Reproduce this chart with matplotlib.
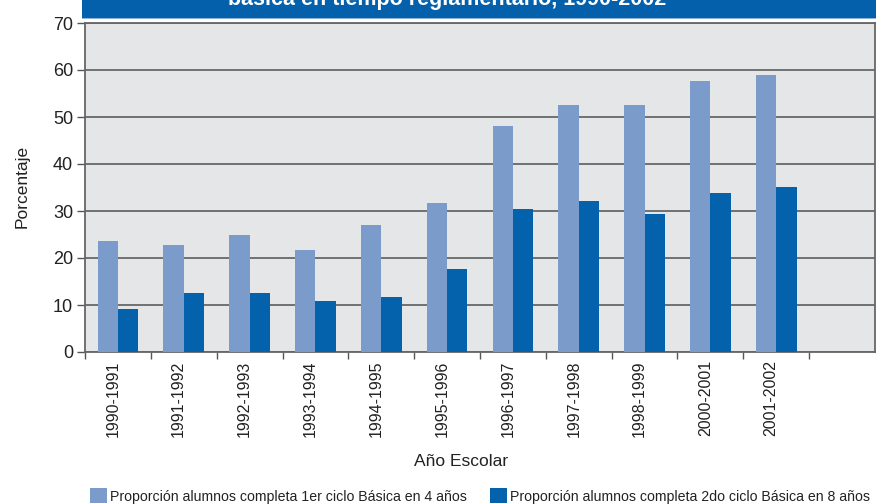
import matplotlib
matplotlib.use("Agg")
import matplotlib.pyplot as plt
import matplotlib.transforms as mtransforms
from matplotlib.patches import Rectangle

plt.rcParams['font.family'] = ['Liberation Sans', 'DejaVu Sans']

categories = ["1990-1991", "1991-1992", "1992-1993", "1993-1994", "1994-1995",
              "1995-1996", "1996-1997", "1997-1998", "1998-1999", "2000-2001",
              "2001-2002"]
ciclo1_4anos = [23.7, 22.7, 25.0, 21.6, 27.1, 31.8, 48.1, 52.6, 52.6, 57.7, 59.0]
ciclo2_8anos = [9.1, 12.5, 12.5, 10.8, 11.8, 17.6, 30.5, 32.2, 29.4, 33.9, 35.2]
yticks = [0, 10, 20, 30, 40, 50, 60, 70]

title = "básica en tiempo reglamentario, 1990-2002"
ylabel = "Porcentaje"
xlabel = "Año Escolar"
legend1 = "Proporción alumnos completa 1er ciclo Básica en 4 años"
legend2 = "Proporción alumnos completa 2do ciclo Básica en 8 años"

c_light = "#7b9bcb"
c_dark = "#0461ab"
c_bg = "#e5e6e8"
c_grid = "#505050"

W, H = 876, 504
fig = plt.figure(figsize=(W / 100, H / 100), dpi=100)
fig.patch.set_facecolor("white")

def fx(px):
    return px / W

def fy(py):
    return 1 - py / H

ax = fig.add_axes([fx(85), fy(352), fx(875) - fx(85), fy(23) - fy(352)])
ax.set_facecolor(c_bg)

n = len(categories)
x = list(range(n))
bw = 0.31
ax.bar([i - bw / 2 for i in x], ciclo1_4anos, width=bw, color=c_light, zorder=3)
ax.bar([i + bw / 2 for i in x], ciclo2_8anos, width=bw, color=c_dark, zorder=3)

ax.set_xlim(-0.5, n + 0.5)
ax.set_ylim(0, 70)
ax.set_yticks(yticks)
ax.set_yticklabels([str(v) for v in yticks], fontsize=13, color="#222222")
ax.yaxis.grid(True, color=c_grid, linewidth=1.1, zorder=1)
ax.set_axisbelow(True)

ax.set_xticks(x)
ax.set_xticklabels(categories, rotation=90, fontsize=11.5, color="#222222", va="top")
ax.set_xticks([i - 0.5 for i in range(n + 1)], minor=True)
ax.tick_params(axis="x", which="major", length=0, pad=6)
ax.tick_params(axis="x", which="minor", length=5, width=1, color="#555555", direction="out")
ax.tick_params(axis="y", length=6, width=1, color="#555555", pad=2.5)

offset = mtransforms.ScaledTranslation(-0.05, 0, fig.dpi_scale_trans)
for lbl in ax.get_xticklabels():
    lbl.set_transform(lbl.get_transform() + offset)

for s in ["left", "bottom", "top", "right"]:
    ax.spines[s].set_color("#666666")
    ax.spines[s].set_linewidth(1.3)

# Title banner (title text is cut by the top edge, as in the reference)
fig.patches.append(Rectangle((fx(82), fy(18.3)), fx(876) - fx(82), fy(0) - fy(18.3),
                             transform=fig.transFigure, facecolor="#0560ab",
                             edgecolor="none", zorder=0))
fig.patches.append(Rectangle((fx(82), fy(19)), fx(876) - fx(82), fy(18.3) - fy(19),
                             transform=fig.transFigure, facecolor="#8fb4dc",
                             edgecolor="none", zorder=0))
fig.text(fx(447), fy(5.5), title, color="white", fontsize=15.5, fontweight="bold",
         ha="center", va="baseline")

fig.text(fx(22), fy(186), ylabel, rotation=90, fontsize=12.5, color="#222222",
         ha="center", va="center")
fig.text(fx(461), fy(461), xlabel, fontsize=12.5, color="#222222",
         ha="center", va="center")

# Legend
fig.patches.append(Rectangle((fx(90), fy(503)), fx(107) - fx(90), fy(488) - fy(503),
                             transform=fig.transFigure, facecolor=c_light, edgecolor="none"))
fig.text(fx(110), fy(501), legend1, fontsize=10.2, color="#222222",
         ha="left", va="baseline")
fig.patches.append(Rectangle((fx(490), fy(503)), fx(507) - fx(490), fy(488) - fy(503),
                             transform=fig.transFigure, facecolor=c_dark, edgecolor="none"))
fig.text(fx(510), fy(501), legend2, fontsize=10.2, color="#222222",
         ha="left", va="baseline")

fig.savefig("out.png", dpi=100, facecolor="white")
